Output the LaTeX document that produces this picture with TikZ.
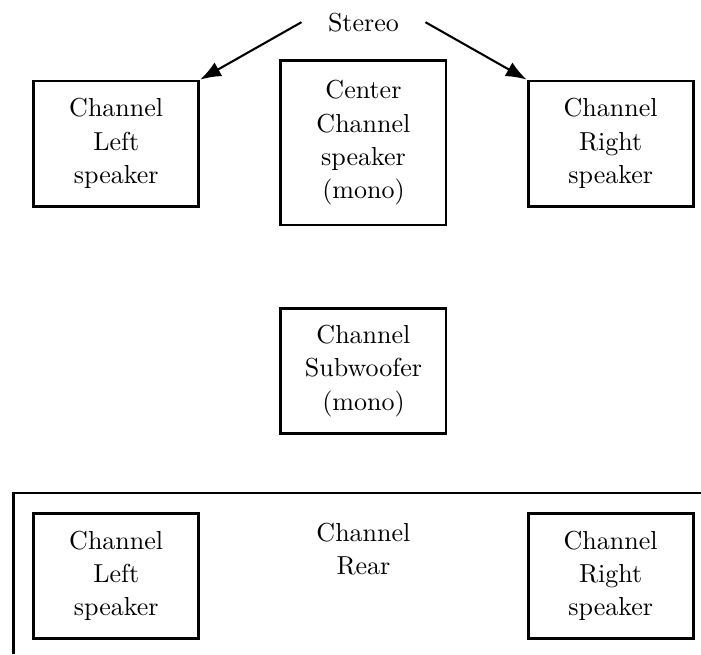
\documentclass[tikz,border=0pt]{standalone}
\usepackage{tikz}
\usetikzlibrary{arrows.meta}

\tikzset{spktext/.style={align=center,font={\fontsize{10}{12.8}\selectfont}},
    spkbox/.style={spktext,draw,line width=1.1pt,minimum width=2.23cm,minimum height=1.69cm}}

\begin{document}
\begin{tikzpicture}
\useasboundingbox (0,0) rectangle (9.47,-8.84);

\node[spktext,inner xsep=10pt] (stereo) at (4.91,-0.30) {Stereo};

\node[spkbox] (lspk) at (1.57,-1.94) {Channel\\Left\\speaker};
\node[spkbox,minimum height=2.22cm] (cspk) at (4.91,-1.93) {Center\\Channel\\speaker\\(mono)};
\node[spkbox] (rspk) at (8.25,-1.94) {Channel\\Right\\speaker};

\node[spkbox] (sub) at (4.91,-5.01) {Channel\\Subwoofer\\ (mono)};

% rear frame
\draw[line width=1.1pt] (0.18,-8.84) -- (0.18,-6.66) -- (9.47,-6.66);
\node[spktext] (rear) at (4.91,-7.42) {Channel\\Rear};
\node[spkbox] (rlspk) at (1.57,-7.78) {Channel\\Left\\speaker};
\node[spkbox] (rrspk) at (8.25,-7.78) {Channel\\Right\\speaker};

\draw[-{Latex[length=8pt,width=6pt]},thick] (stereo.west) -- (lspk.north east);
\draw[-{Latex[length=8pt,width=6pt]},thick] (stereo.east) -- (rspk.north west);
\end{tikzpicture}
\end{document}
